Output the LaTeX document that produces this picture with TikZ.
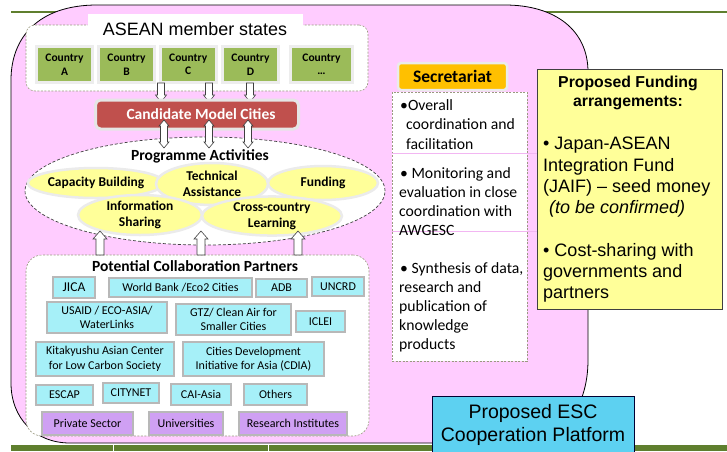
\documentclass[tikz,border=0pt]{standalone}
\usepackage{fontspec}
\setmainfont{Carlito}
\newfontfamily\arialf{Liberation Sans}
\usetikzlibrary{shapes.geometric}
\definecolor{pinkbg}{HTML}{FFCCFF}
\definecolor{ctrygreen}{HTML}{9BBB59}
\definecolor{candred}{HTML}{C0504D}
\definecolor{actyellow}{HTML}{FFFF99}
\definecolor{partcyan}{HTML}{A6F0F8}
\definecolor{partpurple}{HTML}{CFA0F3}
\definecolor{secorange}{HTML}{FFC000}
\definecolor{fundyellow}{HTML}{FFFF99}
\definecolor{platblue}{HTML}{5DD1F1}
\definecolor{barolive}{HTML}{5F7F2E}
\definecolor{dashgray}{HTML}{9A9A80}
\definecolor{tablepink}{HTML}{F2B6F2}
\newcommand\boxat[7]{\node[#2, minimum width={#5pt-#3pt}, minimum height={#6pt-#4pt}] (#1) at ({(#3+#5)/2},{(#4+#6)/2}) {#7};}
\newcommand\arrdown[3]{\draw[blockarrow] ({#1-3.5},#2) -- ({#1+3.5},#2) -- ({#1+3.5},{#3-7}) -- ({#1+5.5},{#3-7}) -- (#1,#3) -- ({#1-5.5},{#3-7}) -- ({#1-3.5},{#3-7}) -- cycle;}
\newcommand\arrup[3]{\draw[blockarrow] ({#1-4},#2) -- ({#1+4},#2) -- ({#1+4},{#3+8}) -- ({#1+7},{#3+8}) -- (#1,#3) -- ({#1-7},{#3+8}) -- ({#1-4},{#3+8}) -- cycle;}
\newcommand\arrboth[3]{\draw[blockarrow] (#1,#2) -- ({#1+5},{#2+6}) -- ({#1+3.5},{#2+6}) -- ({#1+3.5},{#3-6}) -- ({#1+5},{#3-6}) -- (#1,#3) -- ({#1-5},{#3-6}) -- ({#1-3.5},{#3-6}) -- ({#1-3.5},{#2+6}) -- ({#1-5},{#2+6}) -- cycle;}
\begin{document}
\begin{tikzpicture}[x=1pt,y=-1pt,
  blockarrow/.style={draw=black!75, fill=white, line width=0.6pt},
  container/.style={rectangle, draw=dashgray, dash pattern=on 2pt off 1.5pt, line width=0.6pt, fill=white, inner sep=0pt},
  ctry/.style={rectangle, draw=black!7, line width=3pt, fill=ctrygreen, inner sep=0pt, align=center, font=\bfseries\fontsize{11.5}{13.5}\selectfont},
  candbox/.style={rectangle, rounded corners=5pt, draw=black!10, line width=3pt, fill=candred, text=white, inner sep=0pt, font=\bfseries\fontsize{15.5}{18}\selectfont},
  actell/.style={ellipse, draw=black!8, line width=2.5pt, fill=actyellow, inner sep=0pt, align=center, font=\bfseries\fontsize{13.5}{16.5}\selectfont},
  pbox/.style={rectangle, draw=black!28, line width=1.2pt, fill=partcyan, inner sep=0pt, align=center, font=\fontsize{12}{14.5}\selectfont},
  ppurple/.style={pbox, fill=partpurple},
  secbox/.style={rectangle, rounded corners=3pt, draw=black!8, line width=2.5pt, fill=secorange, inner sep=0pt, font=\bfseries\fontsize{17.5}{20}\selectfont},
  sectxt/.style={anchor=base west, inner sep=0pt, font=\fontsize{15.7}{19}\selectfont},
  fundtxt/.style={anchor=base west, inner sep=0pt, font=\arialf\fontsize{18}{21}\selectfont},
  fundhead/.style={anchor=base, inner sep=0pt, font=\arialf\bfseries\fontsize{15.8}{19}\selectfont},
  titletxt/.style={anchor=base, inner sep=0pt, font=\bfseries\fontsize{15.5}{18}\selectfont}]
\useasboundingbox (0,0) rectangle (727,451);
% top line
\draw[barolive, line width=1.5pt] (11,12) -- (727,12);
% pink platform
\draw[fill=pinkbg, line width=0.8pt] (11,80) .. controls (11,38) and (38,5) .. (97,5) -- (505,5) .. controls (555,5) and (588,30) .. (588,72) -- (588,360) .. controls (588,410) and (560,443) .. (520,443) -- (70,443) .. controls (35,443) and (11,418) .. (11,383) -- cycle;
% bottom bar
\fill[barolive] (11,444.5) rectangle (727,451);
\draw[white, line width=1pt] (113,444.5) -- (113,451) (268,444.5) -- (268,451);
% ASEAN container
\node[container, rounded corners=9pt, minimum width=342pt, minimum height=66pt] (asean) at (197,58) {};
\fill[white] (88,14) rectangle (303,26);
\node[anchor=base, inner sep=0pt, font=\arialf\fontsize{17.9}{20}\selectfont] (aseant) at (195,35) {ASEAN member states};
\boxat{ca}{ctry}{36.5}{46.5}{92.5}{82.5}{Country\\A}
\boxat{cb}{ctry}{98.5}{46.5}{154.5}{82.5}{Country\\B}
\boxat{cc}{ctry}{160.5}{46.5}{216}{82.5}{Country\\C}
\boxat{cd}{ctry}{222.5}{46.5}{278.5}{82.5}{Country\\D}
\boxat{ce}{ctry}{290.5}{46.5}{352.5}{82.5}{Country\\…}
\arrdown{161}{83}{102}
\arrdown{209}{83}{102}
\arrdown{250}{83}{102}
% candidate
\boxat{cand}{candbox}{95.5}{100}{298.5}{129}{\hspace*{8pt}Candidate Model Cities}
% programme ellipse
\node[ellipse, draw=black!75, dash pattern=on 3pt off 2pt, line width=0.7pt, fill=white, minimum width=360pt, minimum height=108pt, inner sep=0pt] (prog) at (205,191) {};
\arrboth{164}{120}{148}
\arrboth{209}{120}{148}
\arrboth{248}{120}{148}
\node[titletxt] (progt) at (200,160) {Programme Activities};
\node[actell, minimum width=122pt, minimum height=30pt] (cap) at (96,183) {Capacity Building};
\node[actell, minimum width=110pt, minimum height=34pt] (fund) at (323,183) {Funding};
\node[actell, minimum width=112pt, minimum height=42pt] (tech) at (212,184) {Technical\\Assistance};
\node[actell, minimum width=124pt, minimum height=36pt] (info) at (140,215) {Information\\Sharing};
\node[actell, minimum width=140pt, minimum height=38pt] (cross) at (272,216) {Cross-country\\Learning};
% partners container
\node[container, rounded corners=16pt, minimum width=343pt, minimum height=181pt] (part) at (197.5,345.5) {};
\arrup{100}{255}{231}
\arrup{201}{255}{231}
\arrup{298}{255}{231}
\node[titletxt] (partt) at (195,271) {Potential Collaboration Partners};
\boxat{jica}{pbox, font=\fontsize{13.5}{16}\selectfont}{53}{277}{95}{298}{JICA}
\boxat{wb}{pbox}{109}{278}{252}{297}{World Bank /Eco2 Cities}
\boxat{adb}{pbox}{256}{279}{307}{297}{ADB}
\boxat{uncrd}{pbox}{312}{277}{364}{296}{UNCRD}
\boxat{usaid}{pbox}{47}{302}{167}{333}{USAID / ECO-ASIA/\\WaterLinks}
\boxat{gtz}{pbox}{176}{304}{291}{335}{GTZ/ Clean Air for\\Smaller Cities}
\boxat{iclei}{pbox}{296}{311}{345}{332}{ICLEI}
\boxat{kita}{pbox}{36}{342}{174}{376}{Kitakyushu Asian Center\\for Low Carbon Society}
\boxat{cdia}{pbox}{183}{342}{324}{376}{Cities Development\\Initiative for Asia (CDIA)}
\boxat{escap}{pbox}{36}{385}{93}{405}{ESCAP}
\boxat{citynet}{pbox}{103}{383}{159}{403}{CITYNET}
\boxat{cai}{pbox}{171}{384}{231}{405}{CAI-Asia}
\boxat{others}{pbox}{244}{384}{307}{405}{Others}
\boxat{priv}{ppurple}{42}{412}{133}{435}{Private Sector}
\boxat{univ}{ppurple}{149}{412}{223}{435}{Universities}
\boxat{resi}{ppurple}{239}{412}{347}{435}{Research Institutes}
% secretariat
\boxat{sec}{secbox}{398}{63}{507}{90}{Secretariat}
\boxat{sectext}{container}{392}{92}{527}{361}{}
\draw[tablepink, line width=0.8pt] (392,153) -- (537,153) (392,231) -- (537,231);
\node[sectxt] (s1) at (400,110) {•Overall};
\node[sectxt] (s2) at (406,129) {coordination and};
\node[sectxt] (s3) at (406,149) {facilitation};
\node[sectxt] (s4) at (400,178) {• Monitoring and};
\node[sectxt] (s5) at (399,197) {evaluation in close};
\node[sectxt] (s6) at (399,216) {coordination with};
\node[sectxt] (s7) at (399,235) {AWGESC};
\node[sectxt] (s8) at (400,273) {• Synthesis of data,};
\node[sectxt] (s9) at (399,292) {research and};
\node[sectxt] (s10) at (399,311) {publication of};
\node[sectxt] (s11) at (399,330) {knowledge};
\node[sectxt] (s12) at (399,349) {products};
% funding box
\boxat{fundbox}{rectangle, draw=black!75, line width=0.8pt, fill=fundyellow, inner sep=0pt}{537}{69}{722}{309}{}
\node[fundhead] (f1) at (628,87) {Proposed Funding};
\node[fundhead] (f2) at (628,106) {arrangements:};
\node[fundtxt] (f3) at (543,149) {• Japan-ASEAN};
\node[fundtxt] (f4) at (543,171) {Integration Fund};
\node[fundtxt] (f5) at (543,192) {(JAIF) – seed money};
\node[fundtxt, font=\arialf\itshape\fontsize{18}{21}\selectfont] (f6) at (549,213) {(to be confirmed)};
\node[fundtxt] (f7) at (543,256) {• Cost-sharing with};
\node[fundtxt] (f8) at (543,277) {governments and};
\node[fundtxt] (f9) at (543,298) {partners};
% platform box
\boxat{plat}{rectangle, draw=black!80!blue, line width=0.8pt, fill=platblue, inner sep=0pt}{432}{396}{634}{452}{}
\node[anchor=base, inner sep=0pt, font=\arialf\fontsize{19.5}{23}\selectfont] (p1) at (533,418) {Proposed ESC};
\node[anchor=base, inner sep=0pt, font=\arialf\fontsize{19.5}{23}\selectfont] (p2) at (533,441) {Cooperation Platform};
\end{tikzpicture}
\end{document}
